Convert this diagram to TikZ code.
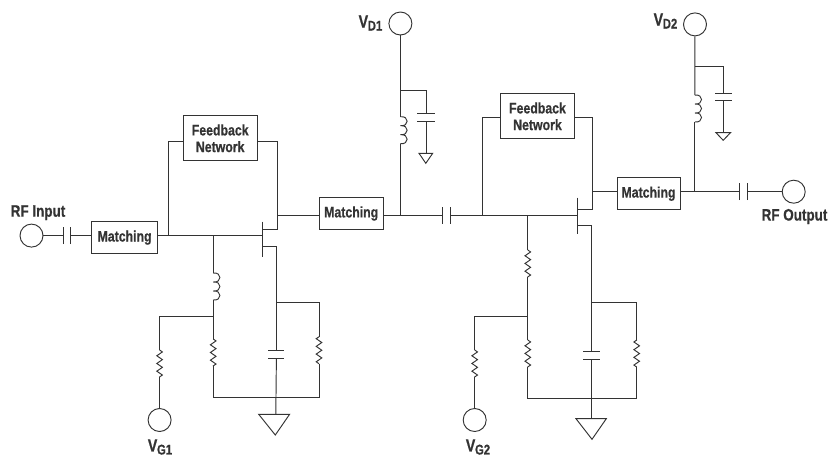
\documentclass[tikz,border=0pt]{standalone}
\usepackage{fontspec}
\setmainfont[UprightFont=*,BoldFont=* Bold,BoldFeatures={FakeStretch=0.81,FakeBold=0.6},FakeStretch=0.81]{Liberation Sans}
\usetikzlibrary{decorations.pathmorphing}
\definecolor{ink}{HTML}{333333}
\newcommand{\lbl}{\fontsize{15.2}{16.7}\selectfont\bfseries}
\newcommand{\lblrf}{\fontsize{16.6}{18}\selectfont\bfseries}
\newcommand{\vlab}[1]{{\fontsize{17.5}{18}\selectfont\bfseries V}\kern-0.3pt\raisebox{-3pt}{\fontsize{14}{14}\selectfont\bfseries #1}}
\newcommand{\indc}[1]{\draw[wire] (#1) .. controls +(9,-1) and +(9,1) .. ++(0,9) .. controls +(9,-1) and +(9,1) .. ++(0,9) .. controls +(9,-1) and +(9,1) .. ++(0,9);}
\tikzset{
  wire/.style={draw=ink,line width=0.95pt,line cap=butt,line join=miter},
  resistor/.style={wire,decorate,decoration={zigzag,amplitude=2.8pt,segment length=7.7pt}},
  port/.style={circle,draw=ink,line width=0.95pt,minimum size=23pt,inner sep=0pt},
  blockbox/.style={rectangle,draw=ink,line width=0.95pt,inner sep=0pt,text=ink,align=center,font=\lbl},
  txt/.style={inner sep=0pt,text=ink,font=\lblrf},
}
\begin{document}
\begin{tikzpicture}[x=1pt,y=-1pt]
\useasboundingbox (0,0) rectangle (828,456);
% ports
\node[port] (rfin) at (31.5,235.6) {};
\node[port] (vg1) at (159.6,420) {};
\node[port] (vg2) at (474.7,420) {};
\node[port] (vd1) at (400.4,23.5) {};
\node[port] (vd2) at (695,24.4) {};
\node[port] (rfout) at (793.7,191.7) {};
% labels
\node[txt] at (38,212.7) {RF Input};
\node[txt] at (794.5,216.5) {RF Output};
\node[txt,anchor=east] at (382.5,23) {\vlab{D1}};
\node[txt,anchor=east] at (677.5,21) {\vlab{D2}};
\node[txt] at (160,447) {\vlab{G1}};
\node[txt] at (478,447) {\vlab{G2}};
% blocks
\node[blockbox,minimum width=66.2pt,minimum height=31.3pt] (m1) at (124.6,237.6) {Matching};
\node[blockbox,minimum width=63.7pt,minimum height=31.6pt] (m2) at (351.2,213.5) {Matching};
\node[blockbox,minimum width=63pt,minimum height=32pt] (m3) at (648.5,193.7) {Matching};
\node[blockbox,minimum width=74.3pt,minimum height=45.3pt] (fb1) at (220.2,138.3) {Feedback\\Network};
\node[blockbox,minimum width=74.4pt,minimum height=45.3pt] (fb2) at (537.5,116.3) {Feedback\\Network};
% coordinates: input stage
\coordinate (c1a) at (63,235.6); \coordinate (c1b) at (70.7,235.6);
\coordinate (g1) at (262.3,235.6);
\coordinate (j1) at (168.7,235.6); \coordinate (j2) at (213.2,235.6);
\coordinate (fb1l) at (168.7,141.3); \coordinate (fb1r) at (277,141.3);
\coordinate (gt1) at (262.3,221.7); \coordinate (gb1) at (262.3,257.3);
\coordinate (d1a) at (262.3,229); \coordinate (d1b) at (277,229);
\coordinate (s1a) at (262.3,246.7); \coordinate (s1b) at (276.4,246.7);
\coordinate (o1) at (277,215);
\coordinate (l1t) at (213.2,273); \coordinate (l1b) at (213.2,300);
\coordinate (n1) at (213.2,316); \coordinate (n1l) at (159.6,316);
\coordinate (r1t) at (159.6,350); \coordinate (r1b) at (159.6,377);
\coordinate (r2t) at (213.2,339); \coordinate (r2b) at (213.2,366);
\coordinate (b1l) at (213.2,397.4); \coordinate (b1m) at (276.4,397.4); \coordinate (b1r) at (319,397.4);
\coordinate (t1) at (276.4,302); \coordinate (t1r) at (319,302);
\coordinate (r3t) at (319,336.7); \coordinate (r3b) at (319,363.7);
\coordinate (p1t) at (276.4,350.7); \coordinate (p1b) at (276.4,358.3);
\coordinate (g1t) at (275.8,414.3); \coordinate (g1l) at (258.7,414.3); \coordinate (g1r) at (289.6,414.3); \coordinate (g1p) at (275.3,435);
% wires: input stage
\draw[wire] (rfin) -- (c1a);
\draw[wire] ([yshift=-8.5pt]c1a) -- ([yshift=8.5pt]c1a);
\draw[wire] ([yshift=-8.5pt]c1b) -- ([yshift=8.5pt]c1b);
\draw[wire] (c1b) -- (c1b -| m1.west);
\draw[wire] (m1.east |- g1) -- (g1);
\draw[wire] (j1) -- (fb1l) -- (fb1l -| fb1.west);
\draw[wire] (fb1r -| fb1.east) -- (fb1r) -- (d1b) -- (d1a);
\draw[wire] (gt1) -- (gb1);
\draw[wire] (s1a) -- (s1b) -- (p1t);
\draw[wire] (o1) -- (o1 -| m2.west);
\draw[wire] (j2) -- (l1t); \indc{l1t}
\draw[wire] (l1b) -- (r2t);
\draw[wire] (n1) -- (n1l) -- (r1t);
\draw[resistor] (r1t) -- (r1b);
\draw[wire] (r1b) -- (vg1);
\draw[resistor] (r2t) -- (r2b);
\draw[wire] (r2b) -- (b1l) -- (b1r) -- (r3b);
\draw[resistor] (r3b) -- (r3t);
\draw[wire] (r3t) -- (t1r) -- (t1);
\draw[wire] ([xshift=-8pt]p1t) -- ([xshift=8pt]p1t);
\draw[wire] ([xshift=-8pt]p1b) -- ([xshift=8pt]p1b);
\draw[wire] (p1b) -- (g1t);
\draw[wire] (g1l) -- (g1r) -- (g1p) -- cycle;
% second stage
\coordinate (o2) at (400.4,215); \coordinate (c2a) at (442.7,215); \coordinate (c2b) at (450.7,215);
\coordinate (g2) at (577.3,215); \coordinate (j3) at (482.7,215); \coordinate (j4) at (527.8,215);
\coordinate (fb2l) at (482.7,117.3); \coordinate (fb2r) at (592.3,117.3);
\coordinate (gt2) at (577.3,197.7); \coordinate (gb2) at (577.3,234.3);
\coordinate (d2a) at (577.3,209.7); \coordinate (d2b) at (592.3,209.7);
\coordinate (s2a) at (577.3,225.7); \coordinate (s2b) at (591.7,225.7);
\coordinate (o3) at (592.3,191.7);
\coordinate (r4t) at (527.8,250); \coordinate (r4b) at (527.8,277);
\coordinate (n2) at (527.8,316); \coordinate (n2l) at (474.7,316);
\coordinate (r5t) at (474.7,350); \coordinate (r5b) at (474.7,377);
\coordinate (r6t) at (527.8,340); \coordinate (r6b) at (527.8,367);
\coordinate (b2l) at (527.8,398); \coordinate (b2r) at (636.7,398);
\coordinate (t2) at (591.7,302.7); \coordinate (t2r) at (636.7,302.7);
\coordinate (r7t) at (636.7,340); \coordinate (r7b) at (636.7,367);
\coordinate (p2t) at (591.7,351.3); \coordinate (p2b) at (591.7,359);
\coordinate (g2t) at (591.7,418.7); \coordinate (g2l) at (576,418.7); \coordinate (g2r) at (606.3,418.7); \coordinate (g2p) at (592,439.3);
\draw[wire] (m2.east |- o2) -- (c2a);
\draw[wire] ([yshift=-8.5pt]c2a) -- ([yshift=8.5pt]c2a);
\draw[wire] ([yshift=-8.5pt]c2b) -- ([yshift=8.5pt]c2b);
\draw[wire] (c2b) -- (g2);
\draw[wire] (j3) -- (fb2l) -- (fb2l -| fb2.west);
\draw[wire] (fb2r -| fb2.east) -- (fb2r) -- (d2b) -- (d2a);
\draw[wire] (gt2) -- (gb2);
\draw[wire] (s2a) -- (s2b) -- (p2t);
\draw[wire] (o3) -- (o3 -| m3.west);
\draw[wire] (j4) -- (r4t);
\draw[resistor] (r4t) -- (r4b);
\draw[wire] (r4b) -- (r6t);
\draw[wire] (n2) -- (n2l) -- (r5t);
\draw[resistor] (r5t) -- (r5b);
\draw[wire] (r5b) -- (vg2);
\draw[resistor] (r6t) -- (r6b);
\draw[wire] (r6b) -- (b2l) -- (b2r) -- (r7b);
\draw[resistor] (r7b) -- (r7t);
\draw[wire] (r7t) -- (t2r) -- (t2);
\draw[wire] ([xshift=-8.5pt]p2t) -- ([xshift=8.5pt]p2t);
\draw[wire] ([xshift=-8.5pt]p2b) -- ([xshift=8.5pt]p2b);
\draw[wire] (p2b) -- (g2t);
\draw[wire] (g2l) -- (g2r) -- (g2p) -- cycle;
% VD1 bias
\coordinate (l2t) at (400.4,116.7); \coordinate (l2b) at (400.4,143.7);
\coordinate (t3) at (400.4,90); \coordinate (t3r) at (426,90);
\coordinate (p3t) at (426,113.7); \coordinate (p3b) at (426,121);
\coordinate (g3t) at (426,153.3); \coordinate (g3l) at (419,153.3); \coordinate (g3r) at (432.7,153.3); \coordinate (g3p) at (425.8,163.3);
\draw[wire] (vd1) -- (l2t); \indc{l2t}
\draw[wire] (l2b) -- (o2);
\draw[wire] (t3) -- (t3r) -- (p3t);
\draw[wire] ([xshift=-8.7pt]p3t) -- ([xshift=8.7pt]p3t);
\draw[wire] ([xshift=-8.7pt]p3b) -- ([xshift=8.7pt]p3b);
\draw[wire] (p3b) -- (g3t);
\draw[wire] (g3l) -- (g3r) -- (g3p) -- cycle;
% VD2 bias
\coordinate (o4) at (694.8,191.7); \coordinate (c3a) at (739.3,191.7); \coordinate (c3b) at (747,191.7);
\coordinate (l3t) at (694.8,95); \coordinate (l3b) at (694.8,122);
\coordinate (t4) at (694.8,66.7); \coordinate (t4r) at (723.7,66.7);
\coordinate (p4t) at (723.7,93); \coordinate (p4b) at (723.7,100.3);
\coordinate (g4t) at (723.7,132.7); \coordinate (g4l) at (716,132.7); \coordinate (g4r) at (730.5,132.7); \coordinate (g4p) at (723.2,140.3);
\draw[wire] (vd2) -- (l3t); \indc{l3t}
\draw[wire] (l3b) -- (o4);
\draw[wire] (t4) -- (t4r) -- (p4t);
\draw[wire] ([xshift=-8.7pt]p4t) -- ([xshift=8.7pt]p4t);
\draw[wire] ([xshift=-8.7pt]p4b) -- ([xshift=8.7pt]p4b);
\draw[wire] (p4b) -- (g4t);
\draw[wire] (g4l) -- (g4r) -- (g4p) -- cycle;
\draw[wire] (m3.east |- o4) -- (c3a);
\draw[wire] ([yshift=-8.5pt]c3a) -- ([yshift=8.5pt]c3a);
\draw[wire] ([yshift=-8.5pt]c3b) -- ([yshift=8.5pt]c3b);
\draw[wire] (c3b) -- (rfout);
\end{tikzpicture}
\end{document}
